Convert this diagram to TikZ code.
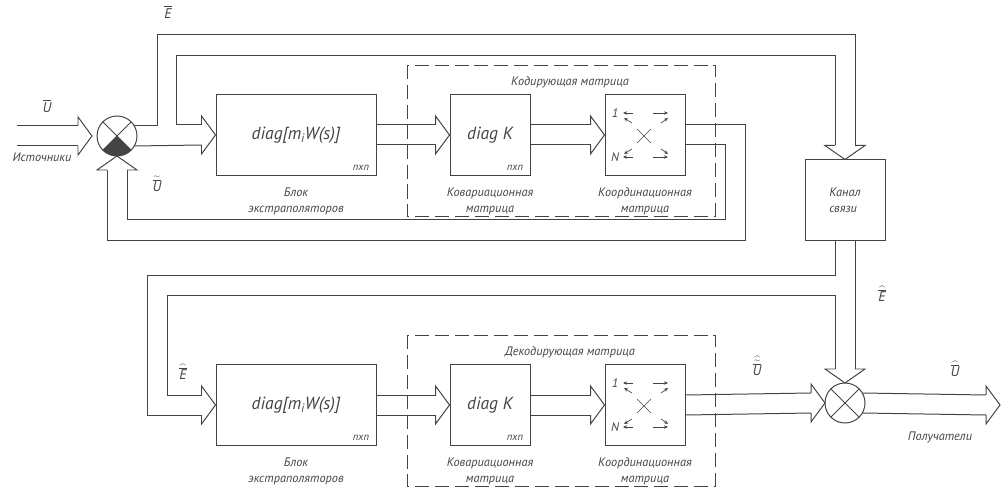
\documentclass[tikz,border=0pt]{standalone}
\usepackage{fontspec}
\setmainfont{PT Sans}
\usetikzlibrary{positioning, calc, arrows.meta}

\definecolor{ln}{HTML}{444444}

% hollow heads of the wide arrows, tip at the given point
\newcommand{\headR}[1]{\draw ($(#1)+(-14,-10)$) -- ++(0,-9) -- (#1) -- ($(#1)+(-14,19)$) -- ++(0,-9);}
\newcommand{\headD}[1]{\draw ($(#1)+(-10,-14)$) -- ++(-10,0) -- (#1) -- ($(#1)+(20,-14)$) -- ++(-10,0);}
\newcommand{\headU}[1]{\draw ($(#1)+(-10,14)$) -- ++(-10,0) -- (#1) -- ($(#1)+(20,14)$) -- ++(-10,0);}
\newcommand{\wideR}[2]{\draw ($(#1)+(0,-10)$) -- ($(#2)+(-14,-10)$) ($(#1)+(0,10)$) -- ($(#2)+(-14,10)$); \headR{#2}}
\newcommand{\iU}{\mbox{\itshape U}}
\newcommand{\iE}{\mbox{\itshape E}}

\begin{document}
\begin{tikzpicture}[x=0.03cm, y=-0.03cm, color=ln, line width=0.85pt,
    blk/.style={draw, minimum width=2.4cm, minimum height=2.4cm, inner sep=0pt},
    wideblk/.style={blk, minimum width=4.8cm},
    sum/.style={draw, circle, minimum size=1.2cm, inner sep=0pt, outer sep=0pt},
    frame/.style={dash pattern=on 12pt off 5pt, line width=0.7pt},
    lbl/.style={font=\fontsize{10.5}{13.5}\selectfont\itshape},
    sig/.style={font=\fontsize{12}{14}\selectfont\itshape},
    big/.style={font=\fontsize{15}{18}\selectfont\itshape},
    dirr/.style={-{Stealth[length=3.5pt,width=3pt]}, line width=0.55pt}]
  \useasboundingbox (0,0) rectangle (1004,488);

  % coder
  \node[sum] (sumA) at (117,136) {};
  \node[wideblk, big] (extrA) at (296,135) {diag[m\textsubscript{i}W(s)]};
  \node[blk, big] (covA) at (490,135) {diag K};
  \node[blk] (coordA) at (645,135) {};
  \node[blk, lbl, align=left] (chan) at (845,200) {Канал\\связи};

  % decoder
  \node[sum] (sumB) at (845,403) {};
  \node[wideblk, big] (extrB) at (296,405) {diag[m\textsubscript{i}W(s)]};
  \node[blk, big] (covB) at (490,405) {diag K};
  \node[blk] (coordB) at (645,405) {};

  \draw[frame] (407,65) rectangle (715,216);
  \draw[frame] (407,335) rectangle (715,486);
  \node[lbl] (encL) at (570,82) {Кодирующая матрица};
  \node[lbl] (decL) at (570,352) {Декодирующая матрица};

  \foreach \b in {extrA,covA,extrB,covB}
    \node[lbl, anchor=south east, font=\fontsize{9}{10}\selectfont\itshape] (\b-n) at ($(\b.south east)+(-3,-1)$) {nxn};
  \foreach \b in {A,B} {
    \node[lbl, align=center, below=0.25cm of extrA] (extr\b-l) at (extr\b.south) {Блок\\экстраполяторов};
    \node[lbl, align=center, below=0.25cm of covA] (cov\b-l) at (cov\b.south) {Ковариационная\\матрица};
    \node[lbl, align=center, below=0.25cm of coordA] (coord\b-l) at (coord\b.south) {Координационная\\матрица};
  }

  % summing circles
  \foreach \s in {sumA,sumB}
    \draw (\s.45) -- (\s.225) (\s.135) -- (\s.315);
  \fill (sumA.center) -- (sumA.225) arc[start angle=225, end angle=315, radius=0.6cm] -- cycle;

  % coordination matrices
  \foreach \m in {coordA,coordB} {
    \begin{scope}[shift={(\m.center)}]
      \node[lbl, inner sep=1pt] (\m-1) at (-30,-22) {1};
      \node[lbl, inner sep=1pt] (\m-N) at (-30,22) {N};
      \draw[dirr] (-12,-22) -- (-22,-22);
      \draw[dirr] (8,-22) -- (23,-22);
      \draw[dirr] (-12,22) -- (-22,22);
      \draw[dirr] (8,22) -- (23,22);
      \draw[dirr] (-13,-12) -- (-21,-17);
      \draw[dirr] (16,-12) -- (23,-17);
      \draw[dirr] (-13,14) -- (-21,19);
      \draw[dirr] (16,14) -- (23,19);
      \draw[line width=0.55pt] (-8,-6) -- (6,8) (6,-6) -- (-8,8);
    \end{scope}
  }

  % coder links
  \coordinate (src) at (17,136);
  \coordinate (inU) at ($(sumA.west)+(-5,0)$);
  \wideR{src}{inU}
  \coordinate (eA) at (157,35);
  \coordinate (eB) at (176,56);
  \draw ($(sumA.center)+(17,-10)$) -| (eA) -| ($(chan.north)+(10,-14)$);
  \draw ($(extrA.west)+(-14,-10)$) -| (eB) -| ($(chan.north)+(-10,-14)$);
  \draw ($(sumA.center)+(17,10)$) -- ($(extrA.west)+(-14,10)$);
  \headR{extrA.west}
  \headD{chan.north}
  \wideR{extrA.east}{covA.west}
  \wideR{covA.east}{coordA.west}
  \coordinate (fA) at (745,240);
  \coordinate (fB) at (725,220);
  \draw ($(coordA.east)+(0,-10)$) -| (fA) -| ($(sumA.south)+(-10,14)$);
  \draw ($(coordA.east)+(0,10)$) -| (fB) -| ($(sumA.south)+(10,14)$);
  \headU{sumA.south}

  % decoder links
  \coordinate (gA) at (147,275);
  \coordinate (gB) at (167,295);
  \draw ($(chan.south)+(10,0)$) -- ($(sumB.north)+(10,-14)$);
  \draw ($(chan.south)+(-10,0)$) |- (gA) |- ($(extrB.west)+(-14,10)$);
  \draw ($(sumB.north)+(-10,-14)$) |- (gB) |- ($(extrB.west)+(-14,-10)$);
  \headD{sumB.north}
  \headR{extrB.west}
  \wideR{extrB.east}{covB.west}
  \wideR{covB.east}{coordB.west}
  \wideR{coordB.east}{sumB.west}
  \coordinate (outU) at (1000,405);
  \draw ($(sumB.center)+(17,-10)$) -- ($(outU)+(-14,-10)$) ($(sumB.center)+(17,10)$) -- ($(outU)+(-14,10)$);
  \headR{outU}

  % signal labels
  \node[sig] (lE) at (168,12) {$\overline{\iE}$};
  \node[sig] (lU) at (47,106) {$\overline{\iU}$};
  \node[lbl] (srcL) at (42,157) {Источники};
  \node[sig] (lUt) at (157,184) {$\widetilde{\overline{\iU}}$};
  \node[sig] (lEh) at (183,372) {$\widehat{\overline{\iE}}$};
  \node[sig] (lEc) at (882,294) {$\widehat{\overline{\iE}}$};
  \node[sig] (lUht) at (757,366) {$\widehat{\widetilde{\overline{\iU}}}$};
  \node[sig] (lUh) at (955,369) {$\widehat{\overline{\iU}}$};
  \node[lbl] (dstL) at (940,437) {Получатели};
\end{tikzpicture}
\end{document}
